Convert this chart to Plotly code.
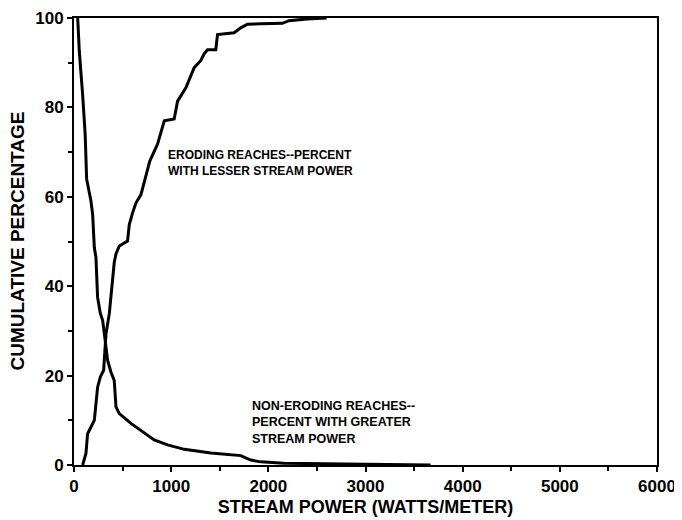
import plotly.graph_objects as go

# Eroding reaches: percent with lesser stream power
eroding_x = [89, 123, 140, 175, 209, 243, 271, 305, 329, 363, 397, 414, 432, 466, 551, 569, 603, 637,
             689, 723, 780, 860, 900, 929, 1031, 1066, 1151, 1237, 1305, 1340, 1374, 1459, 1477,
             1648, 1716, 1785, 1922, 2145, 2213, 2400, 2600]
eroding_y = [0, 2.6, 7, 8.5, 10, 17.4, 19.7, 21.2, 29.3, 33.8, 41.2, 45.3, 47.2, 49, 50.1, 53.8, 56.4, 58.6,
             60.5, 63.5, 68, 71.8, 75, 77, 77.4, 81.4, 84.4, 88.9, 90.5, 92, 92.9, 92.9, 96.3,
             96.7, 97.8, 98.6, 98.7, 98.8, 99.4, 99.8, 100]

# Non-eroding reaches: percent with greater stream power
non_x = [38, 55, 89, 115, 130, 175, 192, 209, 226, 243, 270, 295, 312, 346, 380, 414, 432, 466,
         586, 723, 825, 963, 1134, 1408, 1716, 1819, 1922, 2158, 2672, 3000, 3670]
non_y = [100, 92.4, 82.8, 74, 64, 59, 56, 48.7, 46.4, 37.5, 34, 32.3, 29.4, 23.4, 20.8, 18.9, 13, 11.5,
         9.3, 7.1, 5.6, 4.5, 3.5, 2.7, 2.1, 1.1, 0.7, 0.4, 0.2, 0.15, 0]

x_ticks = [0, 1000, 2000, 3000, 4000, 5000, 6000]
y_ticks = [0, 20, 40, 60, 80, 100]

FONT = "Liberation Sans, Arial, sans-serif"

fig = go.Figure()
fig.add_trace(go.Scatter(x=eroding_x, y=eroding_y, mode="lines",
                         line=dict(color="black", width=3), showlegend=False))
fig.add_trace(go.Scatter(x=non_x, y=non_y, mode="lines",
                         line=dict(color="black", width=3), showlegend=False))

fig.add_annotation(x=950, y=67.5, xref="x", yref="y", xanchor="left", yanchor="middle",
                   text="ERODING REACHES--PERCENT<br>WITH LESSER STREAM POWER",
                   showarrow=False, align="left",
                   font=dict(family=FONT, size=12, color="black", weight="bold"))
fig.add_annotation(x=1815, y=9.5, xref="x", yref="y", xanchor="left", yanchor="middle",
                   text="NON-ERODING REACHES--<br>PERCENT WITH GREATER<br>STREAM POWER",
                   showarrow=False, align="left",
                   font=dict(family=FONT, size=12.5, color="black", weight="bold"))

# y-axis title placed as rotated text left of the tick labels
fig.add_annotation(x=0, y=0.5, xref="paper", yref="paper", xanchor="center", yanchor="middle",
                   xshift=-57, text="CUMULATIVE PERCENTAGE", textangle=-90, showarrow=False,
                   font=dict(family=FONT, size=19, color="black", weight="bold"))

axis_common = dict(showgrid=False, zeroline=False, showline=True, linecolor="black", linewidth=2,
                   mirror=True, ticks="outside", ticklen=5, tickwidth=2, tickcolor="black",
                   automargin=False, ticklabeloverflow="allow",
                   tickfont=dict(family=FONT, size=17, color="black", weight="bold"))

fig.update_xaxes(range=[0, 6000], tickvals=x_ticks, ticktext=[str(v) for v in x_ticks],
                 minor=dict(dtick=500, ticks="outside", ticklen=4, tickwidth=1.5, tickcolor="black"),
                 title=dict(text="STREAM POWER (WATTS/METER)", standoff=5,
                            font=dict(family=FONT, size=18, color="black", weight="bold")),
                 **axis_common)
fig.update_yaxes(range=[0, 100], tickvals=y_ticks, ticktext=[str(v) for v in y_ticks],
                 minor=dict(dtick=10, ticks="outside", ticklen=4, tickwidth=1.5, tickcolor="black"),
                 **axis_common)

# The page adds an 8px body margin, so the figure is offset by 8px right and down.
fig.update_layout(width=674, height=512, margin=dict(l=66, r=25, t=10, b=55),
                  plot_bgcolor="white", paper_bgcolor="white")

fig.write_html("out.html")
